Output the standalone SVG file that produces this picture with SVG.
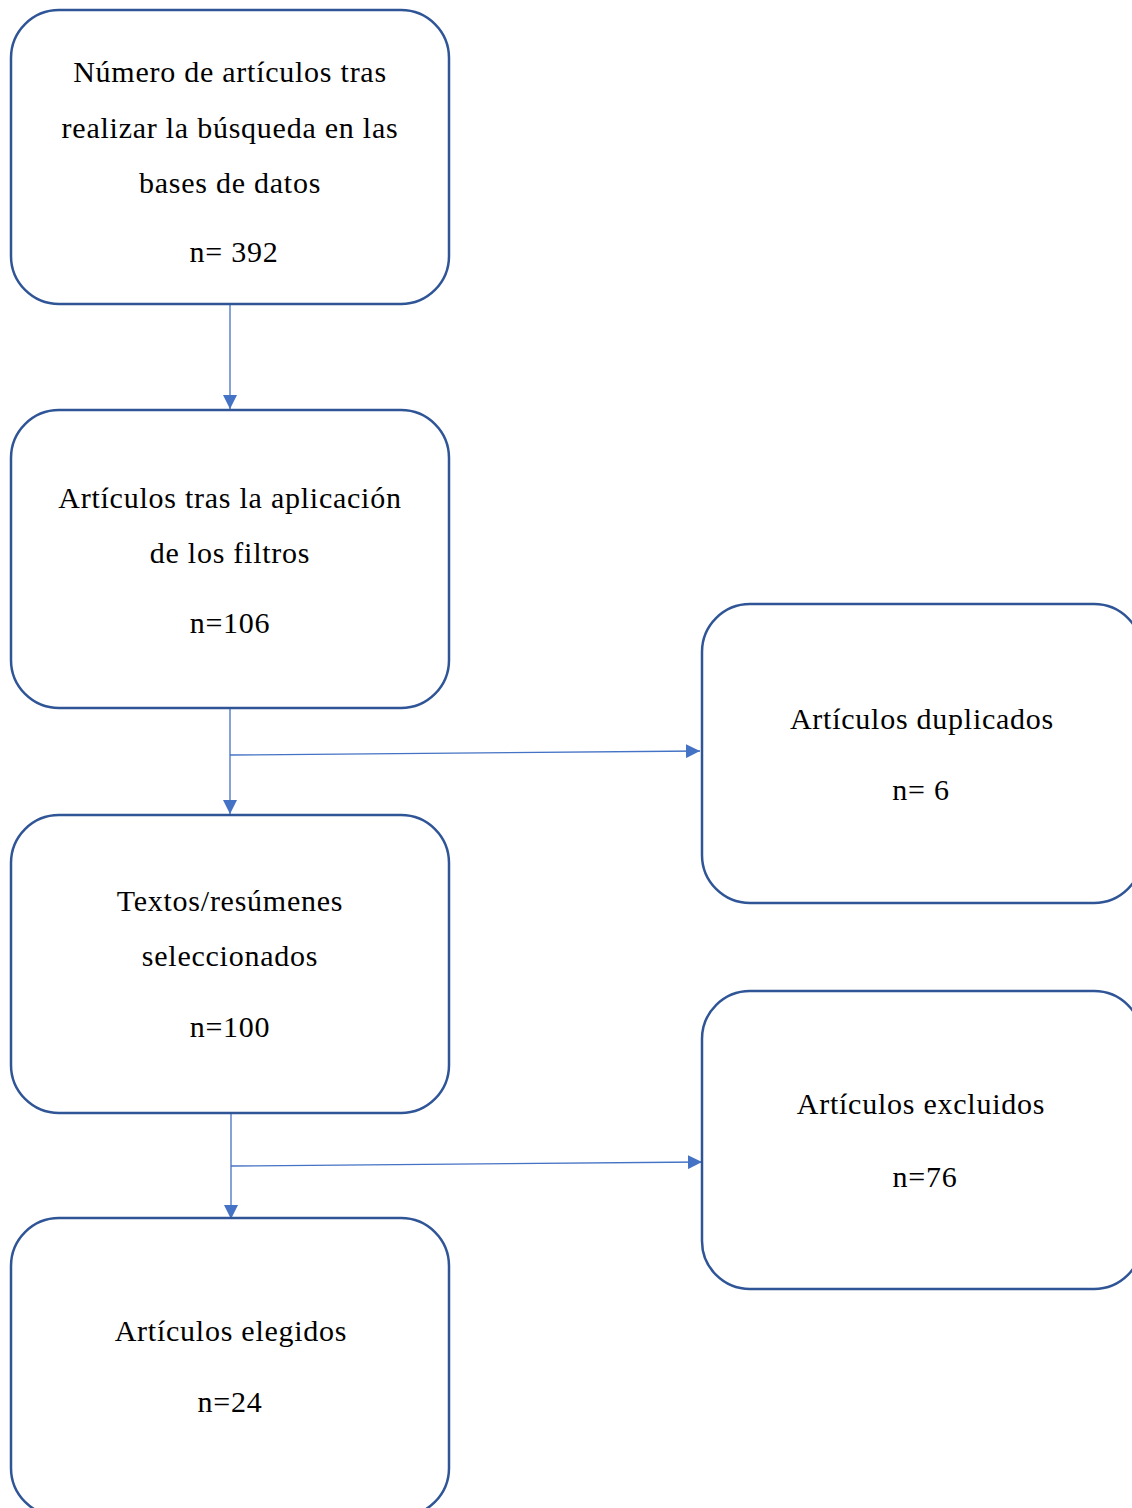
<svg xmlns="http://www.w3.org/2000/svg" width="1132" height="1508" viewBox="0 0 1132 1508">
<style>
.box{fill:#fff;stroke:#2F5597;stroke-width:2.5}
.t{font-family:"Liberation Serif","Times New Roman",serif;font-size:30px;letter-spacing:0.75px;fill:#000;text-anchor:middle}
.c{stroke:#4472C4;stroke-width:1.3;fill:none}
</style>
<defs>
<marker id="ah" viewBox="0 0 14 14" refX="14" refY="7" markerWidth="14" markerHeight="14" markerUnits="userSpaceOnUse" orient="auto">
<path d="M0,0 L14,7 L0,14 Z" fill="#4472C4"/>
</marker>
</defs>
<rect width="1132" height="1508" fill="#fff"/>
<g id="connectors">
<line class="c" x1="230" y1="304" x2="230" y2="409" marker-end="url(#ah)"/>
<line class="c" x1="230" y1="708" x2="230" y2="814" marker-end="url(#ah)"/>
<line class="c" x1="230" y1="755" x2="700" y2="751" marker-end="url(#ah)"/>
<line class="c" x1="231" y1="1113" x2="231" y2="1219" marker-end="url(#ah)"/>
<line class="c" x1="231" y1="1166" x2="702" y2="1162" marker-end="url(#ah)"/>
</g>
<g id="n1">
<rect class="box" x="11" y="10" width="438" height="294" rx="48"/>
<text class="t" x="230" y="82">Número de artículos tras</text>
<text class="t" x="230" y="138">realizar la búsqueda en las</text>
<text class="t" x="230" y="193">bases de datos</text>
<text class="t" x="234" y="262">n= 392</text>
</g>
<g id="n2">
<rect class="box" x="11" y="410" width="438" height="298" rx="48"/>
<text class="t" x="230" y="508">Artículos tras la aplicación</text>
<text class="t" x="230" y="563">de los filtros</text>
<text class="t" x="230" y="633">n=106</text>
</g>
<g id="n3">
<rect class="box" x="11" y="815" width="438" height="298" rx="48"/>
<text class="t" x="230" y="911">Textos/resúmenes</text>
<text class="t" x="230" y="966">seleccionados</text>
<text class="t" x="230" y="1037">n=100</text>
</g>
<g id="n4">
<rect class="box" x="11" y="1218" width="438" height="298" rx="48"/>
<text class="t" x="231" y="1341">Artículos elegidos</text>
<text class="t" x="230" y="1412">n=24</text>
</g>
<g id="n5">
<rect class="box" x="702" y="604" width="440" height="299" rx="48"/>
<text class="t" x="922" y="729">Artículos duplicados</text>
<text class="t" x="921" y="800">n= 6</text>
</g>
<g id="n6">
<rect class="box" x="702" y="991" width="440" height="298" rx="48"/>
<text class="t" x="921" y="1114">Artículos excluidos</text>
<text class="t" x="925" y="1187">n=76</text>
</g>
</svg>
